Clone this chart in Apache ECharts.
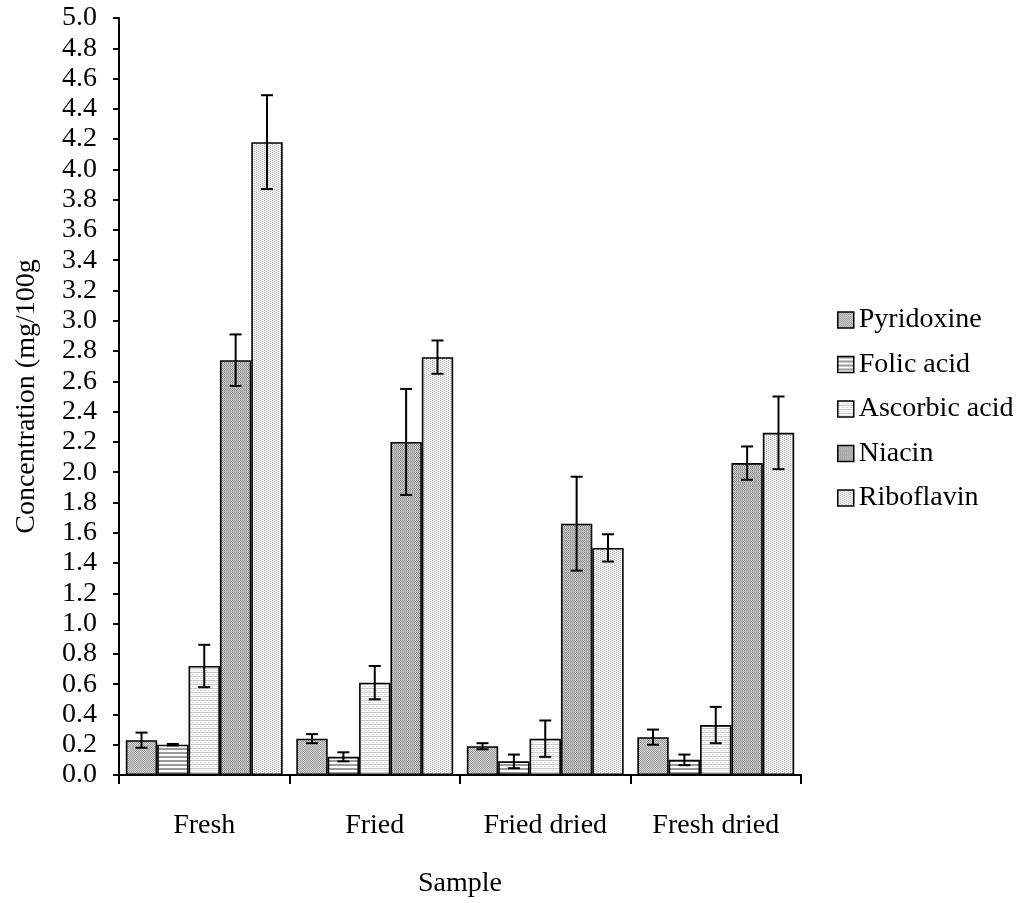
<!DOCTYPE html>
<html><head><meta charset="utf-8">
<script src="https://cdn.jsdelivr.net/npm/echarts@6/dist/echarts.min.js"></script>
<style>html,body{margin:0;padding:0;background:#fff}#c{width:1027px;height:903px}</style>
</head><body><div id="c"></div>
<script>
const categories = ['Fresh', 'Fried', 'Fried dried', 'Fresh dried'];
const seriesNames = ['Pyridoxine', 'Folic acid', 'Ascorbic acid', 'Niacin', 'Riboflavin'];
const pyridoxine = [0.23, 0.24, 0.19, 0.25];
const folicAcid = [0.20, 0.12, 0.09, 0.10];
const ascorbicAcid = [0.72, 0.61, 0.24, 0.33];
const niacin = [2.74, 2.20, 1.66, 2.06];
const riboflavin = [4.18, 2.76, 1.50, 2.26];
const pyridoxineErr = [0.05, 0.03, 0.02, 0.05];
const folicAcidErr = [0.005, 0.03, 0.045, 0.035];
const ascorbicAcidErr = [0.14, 0.11, 0.12, 0.12];
const niacinErr = [0.17, 0.35, 0.31, 0.11];
const riboflavinErr = [0.31, 0.11, 0.09, 0.24];
const yTicks = ['0.0','0.2','0.4','0.6','0.8','1.0','1.2','1.4','1.6','1.8','2.0','2.2','2.4','2.6','2.8','3.0','3.2','3.4','3.6','3.8','4.0','4.2','4.4','4.6','4.8','5.0'];

const values = [pyridoxine, folicAcid, ascorbicAcid, niacin, riboflavin];
const errs = [pyridoxineErr, folicAcidErr, ascorbicAcidErr, niacinErr, riboflavinErr];

function pattern(kind) {
  const c = document.createElement('canvas');
  c.width = 4; c.height = 4;
  const g = c.getContext('2d');
  if (kind === 0) {
    g.fillStyle = '#d4d4d4'; g.fillRect(0,0,4,4);
    g.fillStyle = '#9c9c9c';
    g.fillRect(0,0,1,1); g.fillRect(2,0,1,1); g.fillRect(1,1,1,1); g.fillRect(3,1,1,1);
    g.fillRect(0,2,1,1); g.fillRect(2,2,1,1); g.fillRect(1,3,1,1); g.fillRect(3,3,1,1);
  } else if (kind === 1) {
    g.fillStyle = '#ffffff'; g.fillRect(0,0,4,4);
    g.fillStyle = '#9a9a9a'; g.fillRect(0,0,4,2);
  } else if (kind === 2) {
    g.fillStyle = '#ffffff'; g.fillRect(0,0,4,4);
    g.fillStyle = '#c8c8c8'; g.fillRect(0,0,4,1);
    g.fillStyle = '#dedede'; g.fillRect(0,2,3,1);
  } else if (kind === 3) {
    g.fillStyle = '#cacaca'; g.fillRect(0,0,4,4);
    g.fillStyle = '#8e8e8e';
    g.fillRect(0,0,1,1); g.fillRect(2,0,1,1); g.fillRect(1,1,1,1); g.fillRect(3,1,1,1);
    g.fillRect(0,2,1,1); g.fillRect(2,2,1,1); g.fillRect(1,3,1,1); g.fillRect(3,3,1,1);
    g.fillStyle = '#b4b4b4'; g.fillRect(0,3,4,1);
  } else {
    g.fillStyle = '#eeeeee'; g.fillRect(0,0,4,4);
    g.fillStyle = '#bcbcbc';
    g.fillRect(0,0,1,1); g.fillRect(2,1,1,1); g.fillRect(0,2,1,1); g.fillRect(2,3,1,1);
  }
  return { image: c, repeat: 'repeat' };
}

const chart = echarts.init(document.getElementById('c'));
const font = '"Liberation Serif", "Times New Roman", serif';
const FS = 28;
const CAT_GAP = 0.08;

const barSeries = seriesNames.map((name, i) => ({
  name: name,
  type: 'bar',
  data: values[i],
  barGap: '0%',
  barCategoryGap: (CAT_GAP * 100) + '%',
  itemStyle: { color: pattern(i), borderColor: '#000', borderWidth: 1.6 },
  emphasis: { disabled: true },
  z: 2
}));

const errData = [];
for (let i = 0; i < 5; i++) {
  for (let j = 0; j < categories.length; j++) {
    errData.push([j, values[i][j] - errs[i][j], values[i][j] + errs[i][j], i]);
  }
}

const errSeries = {
  type: 'custom',
  name: 'err',
  data: errData,
  z: 5,
  silent: true,
  renderItem: function (params, api) {
    const cat = api.value(0), lo = api.value(1), hi = api.value(2), si = api.value(3);
    const catW = api.size([1, 0])[0];
    const bw = catW * (1 - CAT_GAP) / 5;
    const pLo = api.coord([cat, lo]);
    const pHi = api.coord([cat, hi]);
    const x = pLo[0] + (si - 2) * bw;
    const cap = 6;
    const st = { stroke: '#000', lineWidth: 2 };
    return {
      type: 'group',
      children: [
        { type: 'line', shape: { x1: x, y1: pLo[1], x2: x, y2: pHi[1] }, style: st },
        { type: 'line', shape: { x1: x - cap, y1: pHi[1], x2: x + cap, y2: pHi[1] }, style: st },
        { type: 'line', shape: { x1: x - cap, y1: pLo[1], x2: x + cap, y2: pLo[1] }, style: st }
      ]
    };
  },
  encode: { x: 0, y: [1, 2] }
};

chart.setOption({
  animation: false,
  backgroundColor: '#fff',
  textStyle: { fontFamily: font, color: '#000' },
  grid: { left: 119, right: 226, top: 18, bottom: 127 },
  legend: {
    data: seriesNames,
    orient: 'vertical',
    left: 832,
    top: 301,
    icon: 'rect',
    itemWidth: 16,
    itemHeight: 16,
    itemGap: 16.5,
    textStyle: { fontFamily: font, fontSize: FS, color: '#000', padding: [0, 0, 0, 0] },
    itemStyle: { borderColor: '#000', borderWidth: 1.5 },
    selectedMode: false
  },
  xAxis: {
    type: 'category',
    data: categories,
    name: 'Sample',
    nameLocation: 'middle',
    nameGap: 95,
    nameTextStyle: { fontFamily: font, fontSize: FS, color: '#000' },
    axisLine: { lineStyle: { color: '#000', width: 2 } },
    axisTick: { show: true, length: 9, inside: false, lineStyle: { color: '#000', width: 2 } },
    axisLabel: { fontFamily: font, fontSize: FS, color: '#000', margin: 37 },
    splitLine: { show: false }
  },
  yAxis: {
    type: 'value',
    min: 0,
    max: 5,
    interval: 0.2,
    name: 'Concentration (mg/100g',
    nameLocation: 'middle',
    nameGap: 78,
    nameRotate: 90,
    nameTextStyle: { fontFamily: font, fontSize: FS, color: '#000' },
    axisLine: { show: true, lineStyle: { color: '#000', width: 2 } },
    axisTick: { show: true, length: 6, lineStyle: { color: '#000', width: 2 } },
    axisLabel: {
      fontFamily: font, fontSize: FS, color: '#000', margin: 22,
      formatter: function (v) { return yTicks[Math.round(v / 0.2)]; }
    },
    splitLine: { show: false }
  },
  series: barSeries.concat([errSeries])
});
</script>
</body></html>
